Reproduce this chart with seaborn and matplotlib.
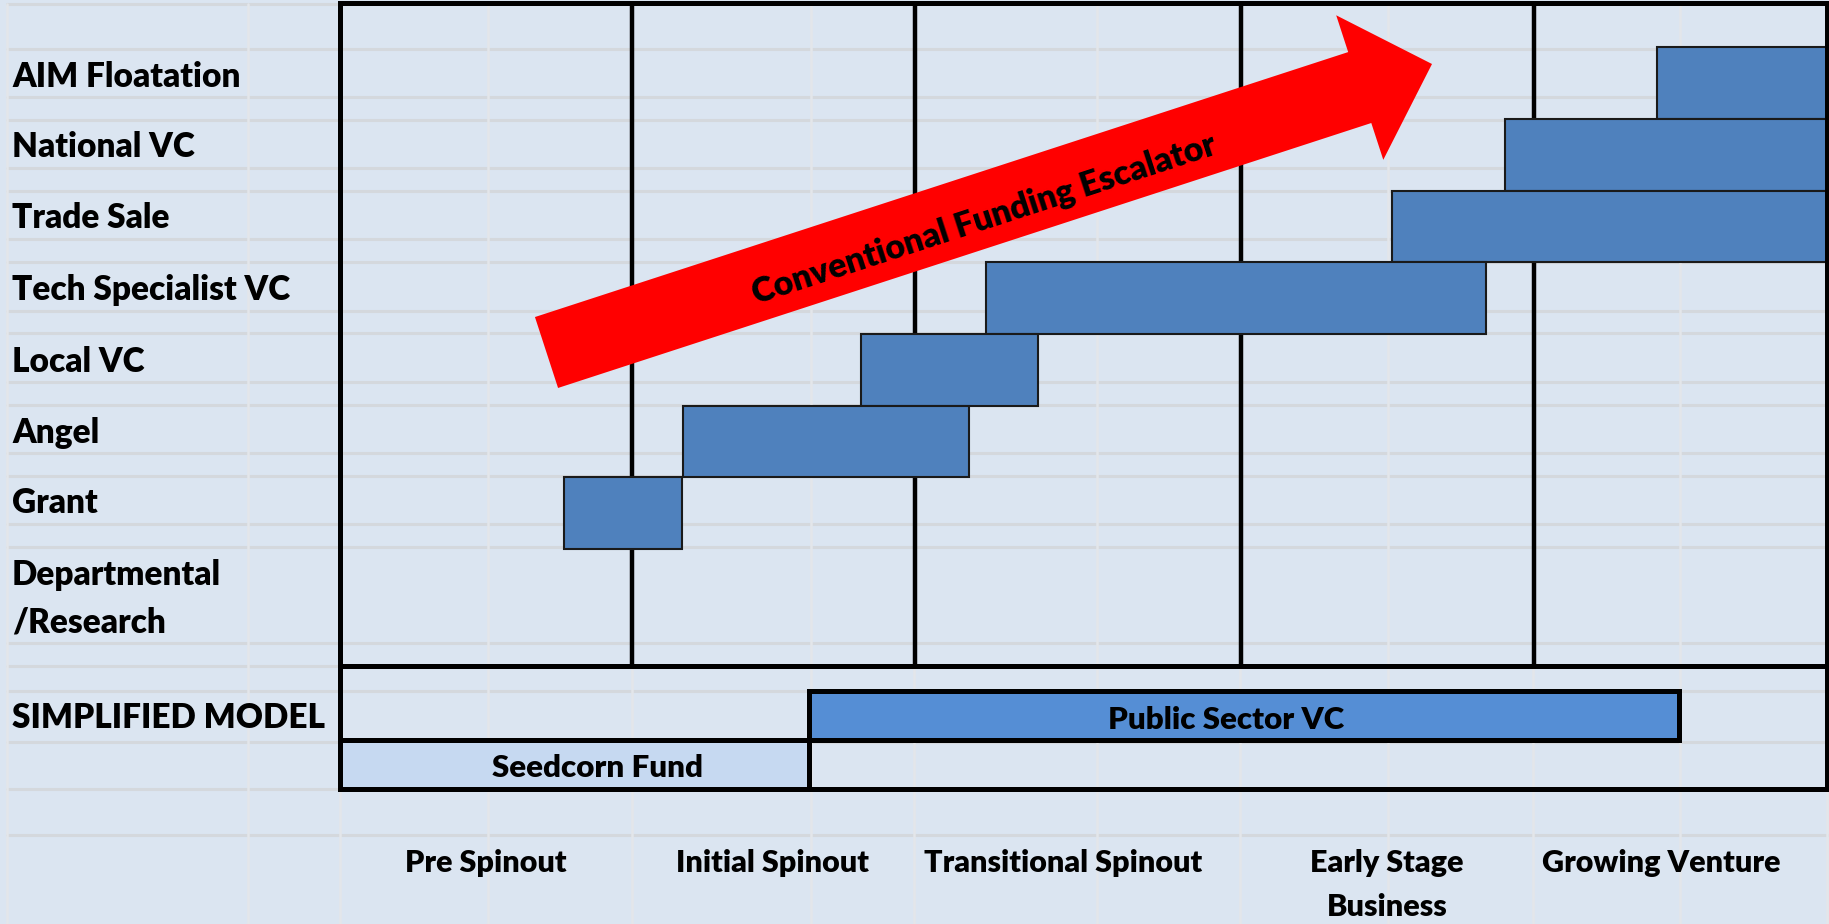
import matplotlib
matplotlib.use("Agg")
import matplotlib.pyplot as plt
from matplotlib.patches import FancyArrow
import numpy as np
import pandas as pd
import seaborn as sns


# ─── Data ─────────────────────────────────────────────────────────────────────
# funding tiers on a 0-100 "venture maturity" scale
TIERS      = ["AIM Floatation", "National VC", "Trade Sale", "Tech Specialist VC",
              "Local VC", "Angel", "Grant"]
TIER_START = [88.6, 78.4, 70.8, 43.5, 35.1, 23.1, 15.1]
TIER_END   = [100.0, 100.0, 100.0, 77.1, 47.0, 42.3, 23.0]

ROW_LABELS = ["AIM Floatation", "National VC", "Trade Sale", "Tech Specialist VC",
              "Local VC", "Angel", "Grant", "Departmental\n/Research",
              "SIMPLIFIED MODEL"]

STAGES      = ["Pre Spinout", "Initial Spinout", "Transitional Spinout",
               "Early Stage\nBusiness", "Growing Venture"]
STAGE_EDGES = [0.0, 19.7, 38.7, 60.6, 80.3, 100.0]

MODEL_FUNDS = ["Public Sector VC", "Seedcorn Fund"]
MODEL_START = [31.6, 0.0]
MODEL_END   = [90.1, 31.6]

ARROW_TEXT = "Conventional Funding Escalator"


# ─── Layout / style (pixels of the 1829x924 canvas) ───────────────────────────
W, H, DPI = 1829, 924, 100
BG          = "#DBE5F1"
BAR_BLUE    = "#4F81BD"
FUND_COLORS = ["#558ED5", "#C6D9F1"]
GRID_H      = "#D4D8DD"
GRID_V      = "#E3E6EA"
FONT        = "Lato"
WEIGHT      = "heavy"

SHEET_ROWS = [3.5, 49, 97, 120, 168, 191, 239, 262, 311, 333, 382, 405,
              453, 476, 524, 547, 643, 666, 691, 742, 789, 835]
SHEET_COLS = [6.5, 248, 340, 488, 632, 811, 914, 1097, 1240, 1388, 1533, 1680, 1827]
# baseline of the last line of each text
LABEL_BASELINES = [87, 157, 228, 300, 372, 443, 513, 633, 728]
STAGE_X = [486, 773, 1063, 1387, 1661]
STAGE_BASELINES = [872, 872, 872, 916, 872]
FUND_X = [1226, 597]
FUND_BASELINES = [729, 777]

FRAME_L, FRAME_R = 339.5, 1826.5
FRAME_TOP, FRAME_MID, FRAME_BOT = 3.0, 665.5, 788.5

ARROW_TAIL = (546.5, 352.5)
ARROW_TIP  = (1432.0, 64.0)
ARROW_TEXT_AT = (984.0, 219.0)

FS_LABEL, FS_STAGE, FS_FUND, FS_ARROW = 24, 22, 22.5, 24.5


def frac_rect(left, right, top, bottom):
    return [left / W, 1 - bottom / H, (right - left) / W, (bottom - top) / H]


def style_frame(axis, lw=3.6):
    axis.patch.set_alpha(0)
    axis.set(xlabel="", ylabel="", xticks=[], yticks=[])
    for sp in axis.spines.values():
        sp.set_visible(True)
        sp.set_color("black")
        sp.set_linewidth(lw)
        sp.set_zorder(4)


sns.set_theme(style="white")
plt.rcParams["font.family"] = [FONT, "DejaVu Sans"]

fig = plt.figure(figsize=(W / DPI, H / DPI), dpi=DPI, facecolor=BG)

# ── spreadsheet background ──
sheet = fig.add_axes([0, 0, 1, 1], zorder=0)
sheet.set_xlim(0, W)
sheet.set_ylim(H, 0)
sheet.axis("off")
for y in SHEET_ROWS:
    sheet.axhline(y, xmin=SHEET_COLS[0] / W, color=GRID_H, lw=2.2)
for x in SHEET_COLS:
    sheet.axvline(x, ymax=1 - SHEET_ROWS[0] / H, color=GRID_V, lw=1.8)

for label, base in zip(ROW_LABELS, LABEL_BASELINES):
    sheet.text(12, base, label, ha="left", va="baseline", fontsize=FS_LABEL,
               fontweight=WEIGHT, color="black", linespacing=1.6)

# ── funding escalator ──
ax = fig.add_axes(frac_rect(FRAME_L, FRAME_R, FRAME_TOP, FRAME_MID), zorder=1)
tiers = pd.DataFrame({"tier": TIERS, "start": TIER_START, "end": TIER_END})
tiers["span"] = tiers["end"] - tiers["start"]
sns.barplot(data=tiers, x="span", y="tier", order=TIERS,
            left=tiers["start"].to_numpy(), color=BAR_BLUE, saturation=1,
            width=1.0, errorbar=None, edgecolor="#1A1A1A", linewidth=1.5,
            zorder=3, ax=ax)
ax.set_xlim(0, 100)
ax.set_ylim(8.123, -1.117)
style_frame(ax)
for x in STAGE_EDGES[1:-1]:
    ax.axvline(x, color="black", lw=3.2, zorder=2)

dx, dy = ARROW_TIP[0] - ARROW_TAIL[0], ARROW_TIP[1] - ARROW_TAIL[1]
ax.add_patch(FancyArrow(ARROW_TAIL[0], ARROW_TAIL[1], dx, dy, width=74.6,
                        head_width=152, head_length=76,
                        length_includes_head=True, color="#FF0000", lw=0,
                        transform=sheet.transData, zorder=2.5))
angle = np.degrees(np.arctan2(-dy, dx))
ax.text(*ARROW_TEXT_AT, ARROW_TEXT, transform=sheet.transData, rotation=angle,
        rotation_mode="anchor", ha="center", va="center", fontsize=FS_ARROW,
        fontweight=WEIGHT, color="black", zorder=3)

# ── simplified model ──
ax2 = fig.add_axes(frac_rect(FRAME_L, FRAME_R, FRAME_MID, FRAME_BOT), zorder=1)
funds = pd.DataFrame({"fund": MODEL_FUNDS, "start": MODEL_START, "end": MODEL_END})
funds["span"] = funds["end"] - funds["start"]
sns.barplot(data=funds, x="span", y="fund", order=MODEL_FUNDS,
            left=funds["start"].to_numpy(), color=FUND_COLORS[0], saturation=1,
            width=1.0, errorbar=None, edgecolor="black", linewidth=3.6,
            zorder=3, ax=ax2)
for patch, c in zip(ax2.patches, FUND_COLORS):
    patch.set_facecolor(c)
ax2.set_xlim(0, 100)
ax2.set_ylim(1.48, -1.03)
style_frame(ax2)
for name, x, base in zip(MODEL_FUNDS, FUND_X, FUND_BASELINES):
    ax2.text(x, base, name, transform=sheet.transData, ha="center",
             va="baseline", fontsize=FS_FUND, fontweight=WEIGHT,
             color="black", zorder=5)

# ── stage names under the frame ──
for name, x, base in zip(STAGES, STAGE_X, STAGE_BASELINES):
    sheet.text(x, base, name, ha="center", va="baseline", fontsize=FS_STAGE,
               fontweight=WEIGHT, color="black", linespacing=1.7)

fig.savefig("out.png", dpi=DPI, facecolor=BG)
